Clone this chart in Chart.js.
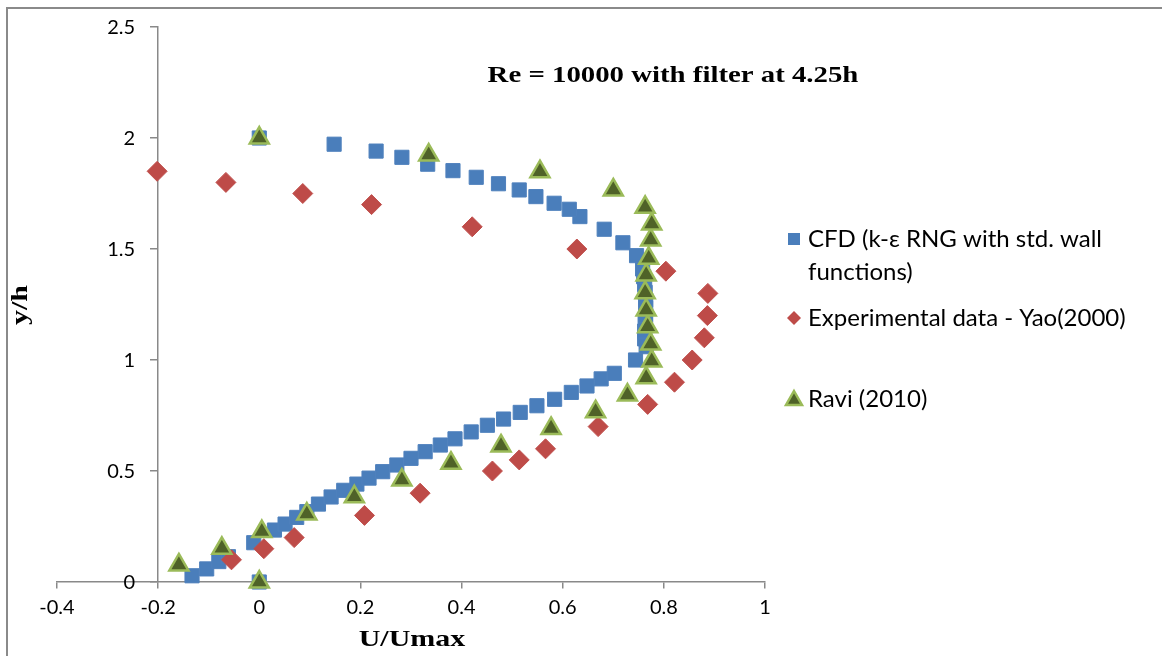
<!DOCTYPE html>
<html>
<head>
<meta charset="utf-8">
<script src="https://cdn.jsdelivr.net/npm/chart.js@4.4.0/dist/chart.umd.min.js"></script>
<style>
  html, body { margin: 0; padding: 0; background: #fff; }
  #wrap { width: 1162px; height: 656px; position: relative; }
</style>
</head>
<body>
<div id="wrap"><canvas id="chart"></canvas></div>
<script>
// CFD (k-eps RNG) profile
const cfdX = [0, -0.133, -0.104, -0.080, -0.061, -0.011, 0.030, 0.051, 0.074, 0.094, 0.117, 0.142, 0.167, 0.193,
  0.217, 0.244, 0.272, 0.300, 0.328, 0.358, 0.387, 0.419, 0.451, 0.483, 0.516, 0.549, 0.584, 0.617, 0.648, 0.676,
  0.702, 0.744, 0.765, 0.762, 0.762, 0.763, 0.764, 0.764, 0.764, 0.763, 0.762, 0.760, 0.758, 0.746, 0.719, 0.682,
  0.634, 0.613, 0.583, 0.547, 0.514, 0.473, 0.429, 0.383, 0.333, 0.282, 0.231, 0.148, 0];
const cfdY = [0, 0.028, 0.059, 0.092, 0.114, 0.177, 0.234, 0.261, 0.291, 0.317, 0.351, 0.383, 0.413, 0.441,
  0.468, 0.497, 0.527, 0.557, 0.587, 0.617, 0.645, 0.676, 0.706, 0.734, 0.764, 0.794, 0.823, 0.854, 0.883, 0.915,
  0.940, 1.0, 1.06, 1.095, 1.13, 1.165, 1.20, 1.235, 1.27, 1.305, 1.34, 1.375, 1.41, 1.470, 1.528, 1.589,
  1.646, 1.679, 1.706, 1.736, 1.766, 1.794, 1.823, 1.853, 1.882, 1.913, 1.941, 1.972, 2.0];

// Experimental data - Yao (2000)
const yaoX = [-0.055, 0.009, 0.069, 0.208, 0.318, 0.461, 0.514, 0.566, 0.670, 0.768, 0.821, 0.856, 0.880, 0.886,
  0.887, 0.804, 0.628, 0.421, 0.222, 0.086, -0.066, -0.202];
const yaoY = [0.10, 0.15, 0.20, 0.30, 0.40, 0.50, 0.55, 0.60, 0.70, 0.80, 0.90, 1.00, 1.10, 1.20,
  1.30, 1.40, 1.50, 1.60, 1.70, 1.75, 1.80, 1.85];

// Ravi (2010)
const raviX = [0, -0.159, -0.074, 0.005, 0.094, 0.188, 0.282, 0.379, 0.478, 0.577, 0.665, 0.728, 0.765, 0.776,
  0.774, 0.768, 0.765, 0.763, 0.765, 0.770, 0.774, 0.776, 0.763, 0.700, 0.555, 0.335, 0];
const raviY = [0, 0.077, 0.152, 0.227, 0.306, 0.384, 0.459, 0.535, 0.613, 0.692, 0.767, 0.842, 0.920, 0.995,
  1.072, 1.150, 1.225, 1.303, 1.383, 1.458, 1.541, 1.613, 1.688, 1.766, 1.848, 1.923, 2.0];

const seriesNames = ['CFD (k-ε RNG with std. wall functions)', 'Experimental data - Yao(2000)', 'Ravi (2010)'];
const chartTitle = 'Re = 10000 with filter at 4.25h';
const xTitle = 'U/Umax';
const yTitle = 'y/h';

function pts(xs, ys) {
  return xs.map((x, i) => ({ x: x, y: ys[i] }));
}

const tickFont = { family: 'Lato, "Open Sans", sans-serif', size: 20 };
const axisGrey = '#898989';
const serifBold = 'bold 24px "Liberation Serif", "Times New Roman", serif';
const fmt = v => String(+v.toFixed(2));

// frame, y tick labels, title, axis titles and the wrapped legend
const decor = {
  id: 'decor',
  beforeDraw(chart) {
    const ctx = chart.ctx;
    ctx.save();
    ctx.strokeStyle = '#8a8a8a';
    ctx.lineWidth = 2;
    ctx.beginPath();
    ctx.moveTo(7, 700);
    ctx.lineTo(7, 8);
    ctx.lineTo(1200, 8);
    ctx.stroke();
    ctx.restore();
  },
  afterDraw(chart) {
    const ctx = chart.ctx;
    const xs = chart.scales.x, ys = chart.scales.y;
    ctx.save();
    ctx.fillStyle = '#000';

    // y tick labels, right-aligned left of the crossing axis
    ctx.font = '20px Lato, "Open Sans", sans-serif';
    ctx.textAlign = 'right';
    ctx.textBaseline = 'middle';
    const axisX = xs.getPixelForValue(ys.options.position.x);
    ys.ticks.forEach(t => {
      ctx.fillText(fmt(t.value), axisX - 23, ys.getPixelForValue(t.value) + 1);
    });

    ctx.textAlign = 'center';
    ctx.font = serifBold;
    ctx.save();
    ctx.translate(673, 76);
    ctx.scale(1.2, 1);
    ctx.fillText(chartTitle, 0, 0);
    ctx.restore();

    ctx.save();
    ctx.translate(412, 640);
    ctx.scale(1.25, 1);
    ctx.fillText(xTitle, 0, 0);
    ctx.restore();

    ctx.save();
    ctx.translate(21, 305);
    ctx.rotate(-Math.PI / 2);
    ctx.scale(1.25, 1);
    ctx.fillText(yTitle, 0, 0);
    ctx.restore();

    // legend
    const rows = [239, 318, 399];
    ctx.font = '24px Lato, "Open Sans", sans-serif';
    ctx.textAlign = 'left';
    chart.data.datasets.forEach((ds, i) => {
      const words = ds.label.split(' ');
      const lines = [];
      let cur = '';
      words.forEach(w => {
        const t = cur ? cur + ' ' + w : w;
        if (ctx.measureText(t).width > 320 && cur) { lines.push(cur); cur = w; } else { cur = t; }
      });
      lines.push(cur);
      const y0 = rows[i];
      ctx.fillStyle = ds.backgroundColor;
      ctx.strokeStyle = ds.borderColor;
      ctx.lineWidth = ds.borderWidth;
      ctx.beginPath();
      if (ds.pointStyle === 'rect') {
        ctx.rect(788, y0 - 6, 12, 12);
      } else if (ds.pointStyle === 'rectRot') {
        ctx.moveTo(794, y0 - 7); ctx.lineTo(801, y0); ctx.lineTo(794, y0 + 7); ctx.lineTo(787, y0); ctx.closePath();
      } else {
        ctx.moveTo(794, y0 - 8); ctx.lineTo(802, y0 + 6); ctx.lineTo(786, y0 + 6); ctx.closePath();
      }
      ctx.fill();
      if (ds.pointStyle === 'triangle') ctx.stroke();
      ctx.fillStyle = '#000';
      lines.forEach((l, k) => ctx.fillText(l, 808, y0 + k * 33));
    });
    ctx.restore();
  }
};

new Chart(document.getElementById('chart'), {
  type: 'scatter',
  data: {
    datasets: [
      {
        label: seriesNames[0],
        data: pts(cfdX, cfdY),
        pointStyle: 'rect',
        pointRadius: 10,
        backgroundColor: '#4a7ebb',
        borderColor: '#4f81bd',
        borderWidth: 1,
        order: 3,
        clip: false
      },
      {
        label: seriesNames[1],
        data: pts(yaoX, yaoY),
        pointStyle: 'rectRot',
        pointRadius: 10,
        backgroundColor: '#be4b48',
        borderColor: '#c0504d',
        borderWidth: 1,
        order: 2,
        clip: false
      },
      {
        label: seriesNames[2],
        data: pts(raviX, raviY),
        pointStyle: 'triangle',
        pointRadius: 11,
        backgroundColor: '#4f6228',
        borderColor: '#9bbb59',
        borderWidth: 2.5,
        order: 1,
        clip: false
      }
    ]
  },
  options: {
    responsive: true,
    maintainAspectRatio: false,
    animation: false,
    events: [],
    layout: { padding: { left: 57, right: 397, top: 27, bottom: 74 } },
    plugins: {
      legend: { display: false },
      title: { display: false },
      tooltip: { enabled: false }
    },
    scales: {
      x: {
        type: 'linear',
        position: { y: 0 },
        min: -0.4,
        max: 1,
        ticks: {
          stepSize: 0.2,
          color: '#000',
          font: tickFont,
          padding: 8,
          callback: fmt
        },
        grid: { display: true, drawOnChartArea: false, drawTicks: true, tickLength: 6, color: axisGrey, lineWidth: 1.5 },
        border: { display: true, color: axisGrey, width: 1.5 }
      },
      y: {
        type: 'linear',
        position: { x: -0.2 },
        min: 0,
        max: 2.5,
        ticks: {
          stepSize: 0.5,
          display: false
        },
        grid: { display: true, drawOnChartArea: false, drawTicks: true, tickLength: 7, color: axisGrey, lineWidth: 1.5 },
        border: { display: true, color: axisGrey, width: 1.5 }
      }
    }
  },
  plugins: [decor]
});
</script>
</body>
</html>
